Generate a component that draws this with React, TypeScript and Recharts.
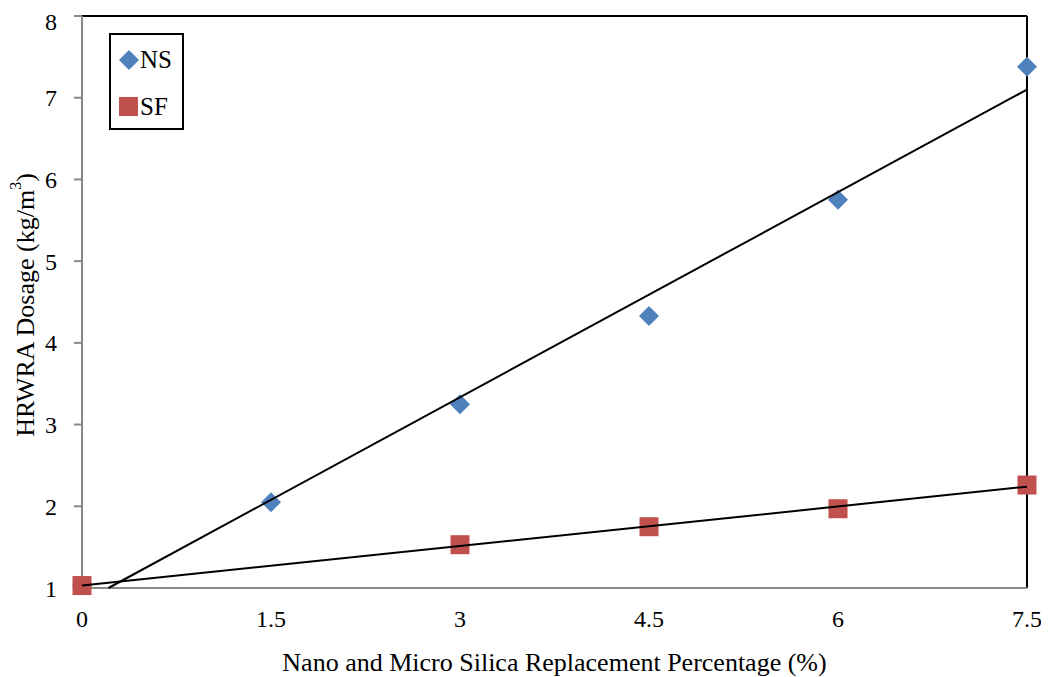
import React from "react";
import {
  ComposedChart,
  Scatter,
  XAxis,
  YAxis,
  ReferenceLine,
} from "recharts";

// values
const X_TICKS = [0, 1.5, 3, 4.5, 6, 7.5];
const Y_TICKS = [1, 2, 3, 4, 5, 6, 7, 8];

const NS_X = [0, 1.5, 3, 4.5, 6, 7.5];
const NS_Y = [1.03, 2.05, 3.25, 4.33, 5.75, 7.38];
const SF_X = [0, 3, 4.5, 6, 7.5];
const SF_Y = [1.03, 1.53, 1.75, 1.97, 2.26];

// trend line end points
const NS_TREND_X = [0.21, 7.5];
const NS_TREND_Y = [1.0, 7.1];
const SF_TREND_X = [0, 7.5];
const SF_TREND_Y = [1.03, 2.24];

const COLORS = {
  ns: "#4F81BD",
  sf: "#C0504D",
  axis: "#888888",
  text: "#000000",
};

const FONT = "'Liberation Serif', 'Times New Roman', serif";

const zip = (xs: number[], ys: number[]) => xs.map((x, i) => ({ x, y: ys[i] }));

const nsData = zip(NS_X, NS_Y);
const sfData = zip(SF_X, SF_Y);
const nsTrend = zip(NS_TREND_X, NS_TREND_Y);
const sfTrend = zip(SF_TREND_X, SF_TREND_Y);

function Diamond({ cx, cy }: { cx?: number; cy?: number }) {
  if (cx == null || cy == null) return null;
  const r = 10;
  return (
    <polygon
      points={`${cx},${cy - r} ${cx + r},${cy} ${cx},${cy + r} ${cx - r},${cy}`}
      fill={COLORS.ns}
    />
  );
}

function Square({ cx, cy }: { cx?: number; cy?: number }) {
  if (cx == null || cy == null) return null;
  const s = 19;
  return <rect x={cx - s / 2} y={cy - s / 2} width={s} height={s} fill={COLORS.sf} />;
}

const NoDot = () => null;

// legend box drawn over the plot, top-left
function LegendBox() {
  return (
    <div
      style={{
        position: "absolute",
        left: 101,
        top: 25,
        width: 71,
        height: 93,
        border: "2px solid #000",
        fontFamily: FONT,
        fontSize: 25,
        lineHeight: "28px",
        color: "#000",
        background: "#fff",
      }}
    >
      <svg width={20} height={20} style={{ position: "absolute", left: 8, top: 15 }}>
        <polygon points="10,0 20,10 10,20 0,10" fill={COLORS.ns} />
      </svg>
      <span style={{ position: "absolute", left: 29, top: 11 }}>NS</span>
      <svg width={19} height={19} style={{ position: "absolute", left: 8, top: 62 }}>
        <rect width={19} height={19} fill={COLORS.sf} />
      </svg>
      <span style={{ position: "absolute", left: 29, top: 58 }}>SF</span>
    </div>
  );
}

function YTitle({ viewBox }: any) {
  const cx = 17;
  const cy = viewBox.y + viewBox.height / 2 + 3;
  return (
    <text
      x={cx}
      y={cy}
      transform={`rotate(-90, ${cx}, ${cy})`}
      textAnchor="middle"
      dominantBaseline="central"
      fontFamily={FONT}
      fontSize={26}
      fill={COLORS.text}
    >
      HRWRA Dosage (kg/m
      <tspan fontSize={16} dy={-10}>3</tspan>
      <tspan dy={10}>)</tspan>
    </text>
  );
}

export default function App() {
  const tick = { fill: COLORS.text, fontSize: 24, fontFamily: FONT };
  return (
    <div style={{ position: "relative", width: 1041, height: 669 }}>
      <ComposedChart
        width={1041}
        height={669}
        margin={{ top: 8, right: 22, bottom: 0, left: 0 }}
      >
        <XAxis
          type="number"
          dataKey="x"
          domain={[0, 7.5]}
          ticks={X_TICKS}
          tick={tick}
          tickLine={false}
          tickSize={8}
          tickMargin={14}
          axisLine={{ stroke: COLORS.axis, strokeWidth: 2 }}
          height={89}
          label={{
            value: "Nano and Micro Silica Replacement Percentage (%)",
            position: "insideBottom",
            offset: 6,
            fill: COLORS.text,
            fontSize: 26,
            fontFamily: FONT,
          }}
        />
        <YAxis
          type="number"
          dataKey="y"
          domain={[1, 8]}
          ticks={Y_TICKS}
          tick={tick}
          tickSize={8}
          tickMargin={17}
          tickLine={{ stroke: COLORS.axis, strokeWidth: 2 }}
          axisLine={{ stroke: COLORS.axis, strokeWidth: 2 }}
          width={74}
          label={<YTitle />}
        />
        <ReferenceLine y={8} stroke="#000" strokeWidth={2} />
        <ReferenceLine x={7.5} stroke="#000" strokeWidth={2} />
        <Scatter
          name="NS"
          data={nsData}
          shape={<Diamond />}
          isAnimationActive={false}
        />
        <Scatter
          name="SF"
          data={sfData}
          shape={<Square />}
          isAnimationActive={false}
        />
        <Scatter
          name="NS trend"
          data={nsTrend}
          line={{ stroke: "#000", strokeWidth: 2 }}
          shape={<NoDot />}
          isAnimationActive={false}
        />
        <Scatter
          name="SF trend"
          data={sfTrend}
          line={{ stroke: "#000", strokeWidth: 2 }}
          shape={<NoDot />}
          isAnimationActive={false}
        />
      </ComposedChart>
      <LegendBox />
    </div>
  );
}
